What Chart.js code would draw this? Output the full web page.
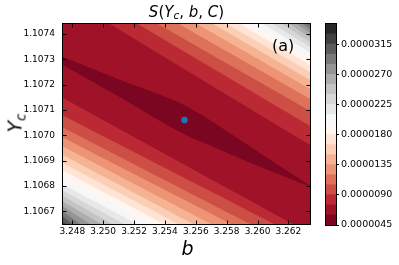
<!DOCTYPE html>
<html>
<head>
<meta charset="utf-8">
<script src="https://cdn.jsdelivr.net/npm/chart.js@4.4.1/dist/chart.umd.min.js"></script>
<style>
  html, body { margin: 0; padding: 0; background: #fff; }
  #wrap { position: relative; width: 399px; height: 265px; overflow: hidden; font-family: "DejaVu Sans", sans-serif; color: #000; }
  #main { position: absolute; left: 0; top: 0; }
  #cbar { position: absolute; left: 320px; top: 0; }
  .lbl { position: absolute; white-space: nowrap; line-height: 1; }
  .lbl i { font-style: italic; }
  .lbl .sb { font-size: 70%; position: relative; top: 0.28em; }
</style>
</head>
<body>
<div id="wrap">
  <canvas id="main" width="399" height="265"></canvas>
  <canvas id="cbar" width="79" height="265"></canvas>
  <div class="lbl" id="title" style="left:186.5px; top:4.5px; font-size:15px; transform:translateX(-50%);"><i>S</i>(<i>Y<span class="sb">c</span></i>, <i>b</i>, <i>C</i>)</div>
  <div class="lbl" id="panel" style="left:272px; top:37.5px; font-size:16px;">(a)</div>
  <div class="lbl" id="xlab" style="left:187.5px; top:239px; font-size:19px; transform:translateX(-50%);"><i>b</i></div>
  <div class="lbl" id="ylab" style="left:15px; top:123px; font-size:19px; transform:translate(-50%,-50%) rotate(-90deg);"><i>Y<span class="sb">c</span></i></div>
</div>
<script>
"strict";

// ==== DATA ====
// b positions where the contour boundaries are sampled
const bGrid = [3.2474, 3.2514, 3.2553, 3.2593, 3.2634];
// finer b positions for the innermost (darkest) closed contour
const ellipseB = [3.2474, 3.24934, 3.25135, 3.2533, 3.2553, 3.25731, 3.25932, 3.26133, 3.2634];

// contour levels of S (21 edges -> 20 filled bands)
const levels = [0.0000045, 0.0000060, 0.0000075, 0.0000090, 0.0000105, 0.0000120, 0.0000135,
  0.0000150, 0.0000165, 0.0000180, 0.0000195, 0.0000210, 0.0000225, 0.0000240, 0.0000255,
  0.0000270, 0.0000285, 0.0000300, 0.0000315, 0.0000330, 0.0000345];

// level 1 contour (dark lens round the minimum)
const ellipseUpper = [1.1073096, 1.1072623, 1.1072129, 1.1071694, 1.1071181, 1.1070450, 1.1069640, 1.1068831, 1.1068021];
const ellipseLower = [1.1072781, 1.1072109, 1.1071418, 1.1070707, 1.1070035, 1.1069502, 1.1068969, 1.1068475, 1.1067981];

// Yc of each level boundary above the valley (level 2 ... 17)
const upperYc = [
  [1.1075522, 1.1074045, 1.1072607, 1.1071133, 1.1069621],
  [1.1076158, 1.1074708, 1.1073298, 1.1071852, 1.1070371],
  [1.1076549, 1.1075151, 1.1073792, 1.1072393, 1.1070964],
  [1.1077023, 1.1075625, 1.1074266, 1.1072867, 1.1071438],
  [1.1077445, 1.1076039, 1.1074673, 1.1073270, 1.1071833],
  [1.1077821, 1.1076411, 1.1075040, 1.1073630, 1.1072188],
  [1.1078145, 1.1076734, 1.1075360, 1.1073950, 1.1072504],
  [1.1078496, 1.1077066, 1.1075672, 1.1074246, 1.1072781],
  [1.1078840, 1.1077390, 1.1075976, 1.1074526, 1.1073037],
  [1.1079191, 1.1077710, 1.1076268, 1.1074791, 1.1073274],
  [1.1079555, 1.1078038, 1.1076561, 1.1075044, 1.1073492],
  [1.1079962, 1.1078393, 1.1076865, 1.1075297, 1.1073689],
  [1.1080451, 1.1078804, 1.1077201, 1.1075553, 1.1073867],
  [1.1080799, 1.1079108, 1.1077461, 1.1075775, 1.1074045],
  [1.1081170, 1.1079428, 1.1077730, 1.1075988, 1.1074203],
  [1.1081660, 1.1079827, 1.1078046, 1.1076217, 1.1074341]
];

// Yc of each level boundary below the valley (level 2 ... 18)
const lowerYc = [
  [1.1071477, 1.1070138, 1.1068834, 1.1067499, 1.1066129],
  [1.1070786, 1.1069530, 1.1068309, 1.1067057, 1.1065769],
  [1.1070312, 1.1069052, 1.1067823, 1.1066567, 1.1065276],
  [1.1069917, 1.1068661, 1.1067436, 1.1066180, 1.1064892],
  [1.1069561, 1.1068281, 1.1067037, 1.1065757, 1.1064450],
  [1.1069225, 1.1067930, 1.1066666, 1.1065374, 1.1064043],
  [1.1068910, 1.1067614, 1.1066354, 1.1065062, 1.1063739],
  [1.1068613, 1.1067318, 1.1066058, 1.1064766, 1.1063443],
  [1.1068317, 1.1067025, 1.1065769, 1.1064478, 1.1063154],
  [1.1068060, 1.1066757, 1.1065489, 1.1064185, 1.1062850],
  [1.1067823, 1.1066484, 1.1065177, 1.1063838, 1.1062467],
  [1.1067606, 1.1066212, 1.1064853, 1.1063462, 1.1062037],
  [1.1067389, 1.1065943, 1.1064537, 1.1063091, 1.1061614],
  [1.1067191, 1.1065611, 1.1064067, 1.1062491, 1.1060867],
  [1.1066994, 1.1065200, 1.1063451, 1.1061661, 1.1059824],
  [1.1066796, 1.1064770, 1.1062795, 1.1060773, 1.1058699],
  [1.1066599, 1.1064565, 1.1062590, 1.1060555, 1.1058470]
];

// best fit point
const bestB = [3.25527];
const bestYc = [1.107061];

// tick labels
const xTicks = [3.248, 3.250, 3.252, 3.254, 3.256, 3.258, 3.260, 3.262];
const yTicks = [1.1067, 1.1068, 1.1069, 1.1070, 1.1071, 1.1072, 1.1073, 1.1074];
const cbTicks = [0.0000045, 0.0000090, 0.0000135, 0.0000180, 0.0000225, 0.0000270, 0.0000315];

// ==== COLOURS (matplotlib RdGy) ====
const rdgyStops = ["#67001f", "#b2182b", "#d6604d", "#f4a582", "#fddbc7", "#ffffff",
  "#e0e0e0", "#bababa", "#878787", "#4d4d4d", "#1a1a1a"];
const hexRgb = (h) => [1, 3, 5].map((i) => parseInt(h.substr(i, 2), 16));
const rdgy = (t) => {
  const p = Math.max(0, Math.min(1, t)) * 10;
  const i = Math.min(9, Math.floor(p));
  const f = p - i;
  const a = hexRgb(rdgyStops[i]);
  const b = hexRgb(rdgyStops[i + 1]);
  const c = a.map((v, j) => Math.round(v + (b[j] - v) * f));
  return `rgb(${c[0]},${c[1]},${c[2]})`;
};
const nBands = levels.length - 1;
const bandColor = (k) => rdgy((k + 0.5) / nBands);

const tickFont = { family: "DejaVu Sans", size: 9 };

// ==== MAIN CONTOUR PLOT ====
// each boundary fills towards the far side of the valley with the colour of the band above it
const boundary = (xs, ys, k, side) => ({
  data: xs.map((b, i) => ({ x: b, y: ys[i] })),
  fill: side,
  backgroundColor: bandColor(k),
  borderColor: "transparent",
  borderWidth: 0,
  pointRadius: 0,
  pointHoverRadius: 0,
  cubicInterpolationMode: "monotone",
  order: 100 - k,
});

const datasets = [];
datasets.push(boundary(ellipseB, ellipseUpper, 1, "end"));
datasets.push(boundary(ellipseB, ellipseLower, 1, "start"));
upperYc.forEach((arr, i) => datasets.push(boundary(bGrid, arr, i + 2, "end")));
lowerYc.forEach((arr, i) => datasets.push(boundary(bGrid, arr, i + 2, "start")));
datasets.push({
  data: bestB.map((b, i) => ({ x: b, y: bestYc[i] })),
  showLine: false,
  fill: false,
  pointRadius: 3.3,
  pointBackgroundColor: "#1f77b4",
  pointBorderWidth: 0,
  order: 0,
});

const framePlugin = {
  id: "frame",
  beforeDatasetsDraw(chart) {
    const { ctx, chartArea: a } = chart;
    ctx.save();
    ctx.fillStyle = bandColor(0);
    ctx.fillRect(a.left, a.top, a.right - a.left, a.bottom - a.top);
    ctx.restore();
  },
  afterDatasetsDraw(chart) {
    const { ctx, chartArea: a, scales } = chart;
    ctx.save();
    ctx.strokeStyle = "#000";
    ctx.lineWidth = 1;
    ctx.beginPath();
    xTicks.forEach((v) => {
      const px = Math.round(scales.x.getPixelForValue(v)) + 0.5;
      ctx.moveTo(px, a.bottom); ctx.lineTo(px, a.bottom - 3.5);
      ctx.moveTo(px, a.top); ctx.lineTo(px, a.top + 3.5);
    });
    yTicks.forEach((v) => {
      const py = Math.round(scales.y.getPixelForValue(v)) + 0.5;
      ctx.moveTo(a.left, py); ctx.lineTo(a.left + 3.5, py);
      ctx.moveTo(a.right, py); ctx.lineTo(a.right - 3.5, py);
    });
    ctx.stroke();
    ctx.strokeRect(a.left - 0.5, a.top - 0.5, a.right - a.left + 1, a.bottom - a.top + 1);
    ctx.restore();
  },
};

new Chart(document.getElementById("main"), {
  type: "line",
  data: { datasets },
  options: {
    responsive: false,
    animation: false,
    devicePixelRatio: 1,
    events: [],
    layout: { padding: { left: 0, top: 24, right: 89, bottom: 0 } },
    elements: { line: { capBezierPoints: false } },
    plugins: { legend: { display: false }, tooltip: { enabled: false }, title: { display: false } },
    scales: {
      x: {
        type: "linear",
        min: 3.2474,
        max: 3.2634,
        afterBuildTicks: (s) => { s.ticks = xTicks.map((v) => ({ value: v })); },
        afterFit: (s) => { s.height = 41; },
        ticks: { font: tickFont, color: "#000", padding: 2, autoSkip: false, maxRotation: 0,
          callback: (v) => v.toFixed(3) },
        grid: { display: false, drawTicks: false },
        border: { display: false },
      },
      y: {
        type: "linear",
        min: 1.10665,
        max: 1.10744,
        afterBuildTicks: (s) => { s.ticks = yTicks.map((v) => ({ value: v })); },
        afterFit: (s) => { s.width = 63; },
        ticks: { font: tickFont, color: "#000", padding: 8, autoSkip: false,
          callback: (v) => v.toFixed(4) },
        grid: { display: false, drawTicks: false },
        border: { display: false },
      },
    },
  },
  plugins: [framePlugin],
});

// ==== COLOURBAR ====
const cbFrame = {
  id: "cbFrame",
  afterDatasetsDraw(chart) {
    const { ctx, chartArea: a } = chart;
    ctx.save();
    ctx.strokeStyle = "#000";
    ctx.lineWidth = 1;
    ctx.strokeRect(a.left - 0.5, a.top - 0.5, a.right - a.left + 1, a.bottom - a.top + 1);
    ctx.restore();
  },
};

new Chart(document.getElementById("cbar"), {
  type: "bar",
  data: {
    labels: [""],
    datasets: levels.slice(0, -1).map((lo, k) => ({
      data: [[lo, levels[k + 1]]],
      backgroundColor: bandColor(k),
      borderWidth: 0,
      grouped: false,
      barPercentage: 1,
      categoryPercentage: 1,
    })),
  },
  options: {
    responsive: false,
    animation: false,
    devicePixelRatio: 1,
    events: [],
    layout: { padding: { left: 6, top: 24, right: 0, bottom: 40 } },
    plugins: { legend: { display: false }, tooltip: { enabled: false } },
    scales: {
      x: { display: false },
      y: {
        position: "right",
        min: levels[0],
        max: levels[levels.length - 1],
        afterBuildTicks: (s) => { s.ticks = cbTicks.map((v) => ({ value: v })); },
        afterFit: (s) => { s.width = 63; },
        ticks: { font: { family: "DejaVu Sans", size: 9.5 }, color: "#000", padding: 2, autoSkip: false,
          callback: (v) => v.toFixed(7) },
        grid: { display: true, drawOnChartArea: false, drawTicks: true, tickLength: 3, color: "#000", lineWidth: 1 },
        border: { display: false },
      },
    },
  },
  plugins: [cbFrame],
});
</script>
</body>
</html>
